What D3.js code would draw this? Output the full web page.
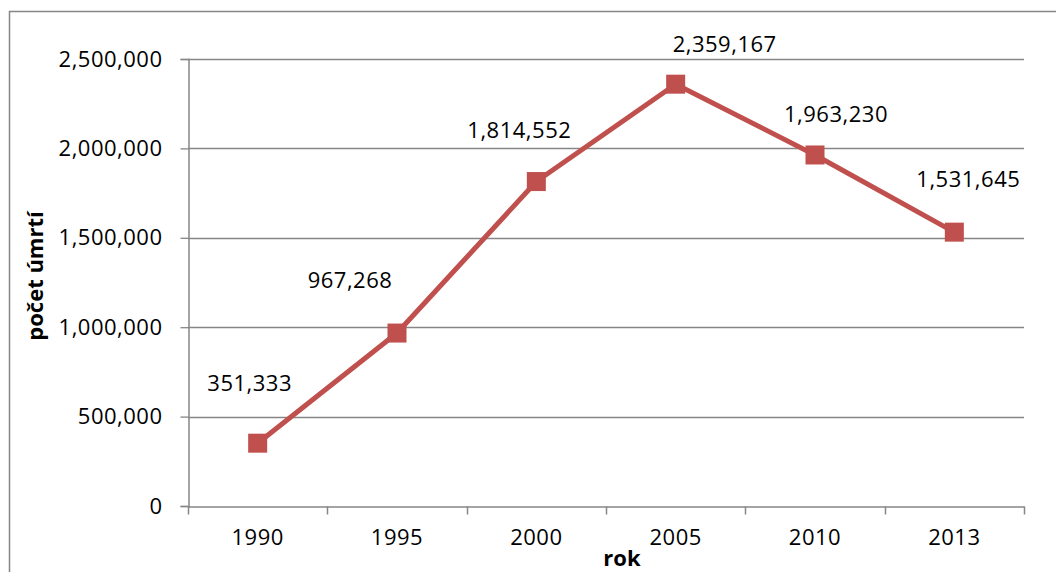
<!DOCTYPE html>
<html>
<head>
<meta charset="utf-8">
<script src="https://cdn.jsdelivr.net/npm/d3@7"></script>
<style>
  html, body { margin: 0; padding: 0; background: #fff; }
  svg { display: block; }
  text { font-family: "Open Sans", "Noto Sans", sans-serif; fill: #000; }
</style>
</head>
<body>
<svg id="chart" width="1056" height="572"></svg>
<script>
// Deaths per year
const years = ["1990", "1995", "2000", "2005", "2010", "2013"];
const deaths = [351333, 967268, 1814552, 2359167, 1963230, 1531645];
const yTicks = [0, 500000, 1000000, 1500000, 2000000, 2500000];

// Manual label placement (offset of label centre from its point, px)
const labelDx = [-8, -47, -17, 49, 21, 14];
const labelDy = [-61, -54, -53, -41, -42, -54];

const svg = d3.select("#chart");
const W = 1056, H = 572;
const plot = { left: 188, right: 1024, top: 59, bottom: 506 };
const fontSize = "22px";
const spacing = "0.5px";

// outer frame
svg.append("rect")
  .attr("x", 9.5).attr("y", 11.5)
  .attr("width", W + 20).attr("height", H + 20)
  .attr("fill", "none").attr("stroke", "#868686").attr("stroke-width", 1.5);

const x = d3.scaleBand().domain(years).range([plot.left, plot.right]);
const y = d3.scaleLinear().domain([0, 2500000]).range([plot.bottom, plot.top]);
const fmt = d3.format(",");

// horizontal gridlines
svg.append("g")
  .selectAll("line")
  .data(yTicks.filter(d => d > 0))
  .join("line")
  .attr("x1", plot.left).attr("x2", plot.right)
  .attr("y1", d => Math.round(y(d)) + 0.5).attr("y2", d => Math.round(y(d)) + 0.5)
  .attr("stroke", "#868686").attr("stroke-width", 1.3);

// y axis
const yAxis = svg.append("g")
  .attr("transform", `translate(${plot.left + 0.5},0)`)
  .call(d3.axisLeft(y).tickValues(yTicks).tickFormat(fmt).tickSize(8).tickPadding(18));
yAxis.select(".domain").attr("stroke", "#868686").attr("stroke-width", 1.5);
yAxis.selectAll(".tick line").attr("stroke", "#868686").attr("stroke-width", 1.3);
yAxis.selectAll(".tick text")
  .style("font-family", "'Open Sans', sans-serif")
  .style("font-size", fontSize).style("letter-spacing", spacing).attr("fill", "#000");

// x axis with ticks on band boundaries
const xAxisG = svg.append("g")
  .attr("transform", `translate(0,${plot.bottom + 0.5})`)
  .call(d3.axisBottom(x).tickSize(0).tickPadding(23));
xAxisG.select(".domain").attr("stroke", "#868686").attr("stroke-width", 1.5);
xAxisG.selectAll(".tick text")
  .style("font-family", "'Open Sans', sans-serif")
  .style("font-size", fontSize).style("letter-spacing", spacing).attr("fill", "#000");
const bounds = years.map(d => x(d)).concat([x(years[years.length - 1]) + x.bandwidth()]);
xAxisG.append("g")
  .selectAll("line")
  .data(bounds)
  .join("line")
  .attr("x1", d => Math.round(d) + 0.5).attr("x2", d => Math.round(d) + 0.5)
  .attr("y1", 0).attr("y2", 8)
  .attr("stroke", "#868686").attr("stroke-width", 1.5);

// axis titles
svg.append("text")
  .attr("x", 622).attr("y", 566)
  .attr("text-anchor", "middle")
  .style("font-size", fontSize).style("font-weight", "bold")
  .text("rok");

svg.append("text")
  .attr("transform", "translate(43,276) rotate(-90)")
  .attr("text-anchor", "middle")
  .style("font-size", fontSize).style("font-weight", "bold")
  .text("počet úmrtí");

// series line
const cx = d => x(d) + x.bandwidth() / 2;
const line = d3.line().x((d, i) => cx(years[i])).y(d => y(d));
svg.append("path")
  .datum(deaths)
  .attr("d", line)
  .attr("fill", "none")
  .attr("stroke", "#C0504D")
  .attr("stroke-width", 5)
  .attr("stroke-linejoin", "round");

// square markers
const ms = 19;
svg.append("g")
  .selectAll("rect")
  .data(deaths)
  .join("rect")
  .attr("x", (d, i) => cx(years[i]) - ms / 2)
  .attr("y", d => y(d) - ms / 2)
  .attr("width", ms).attr("height", ms)
  .attr("fill", "#C0504D");

// data labels
svg.append("g")
  .selectAll("text")
  .data(deaths)
  .join("text")
  .attr("x", (d, i) => cx(years[i]) + labelDx[i])
  .attr("y", (d, i) => y(d) + labelDy[i])
  .attr("text-anchor", "middle")
  .attr("dominant-baseline", "central")
  .style("font-size", fontSize).style("letter-spacing", spacing)
  .text(d => fmt(d));
</script>
</body>
</html>
